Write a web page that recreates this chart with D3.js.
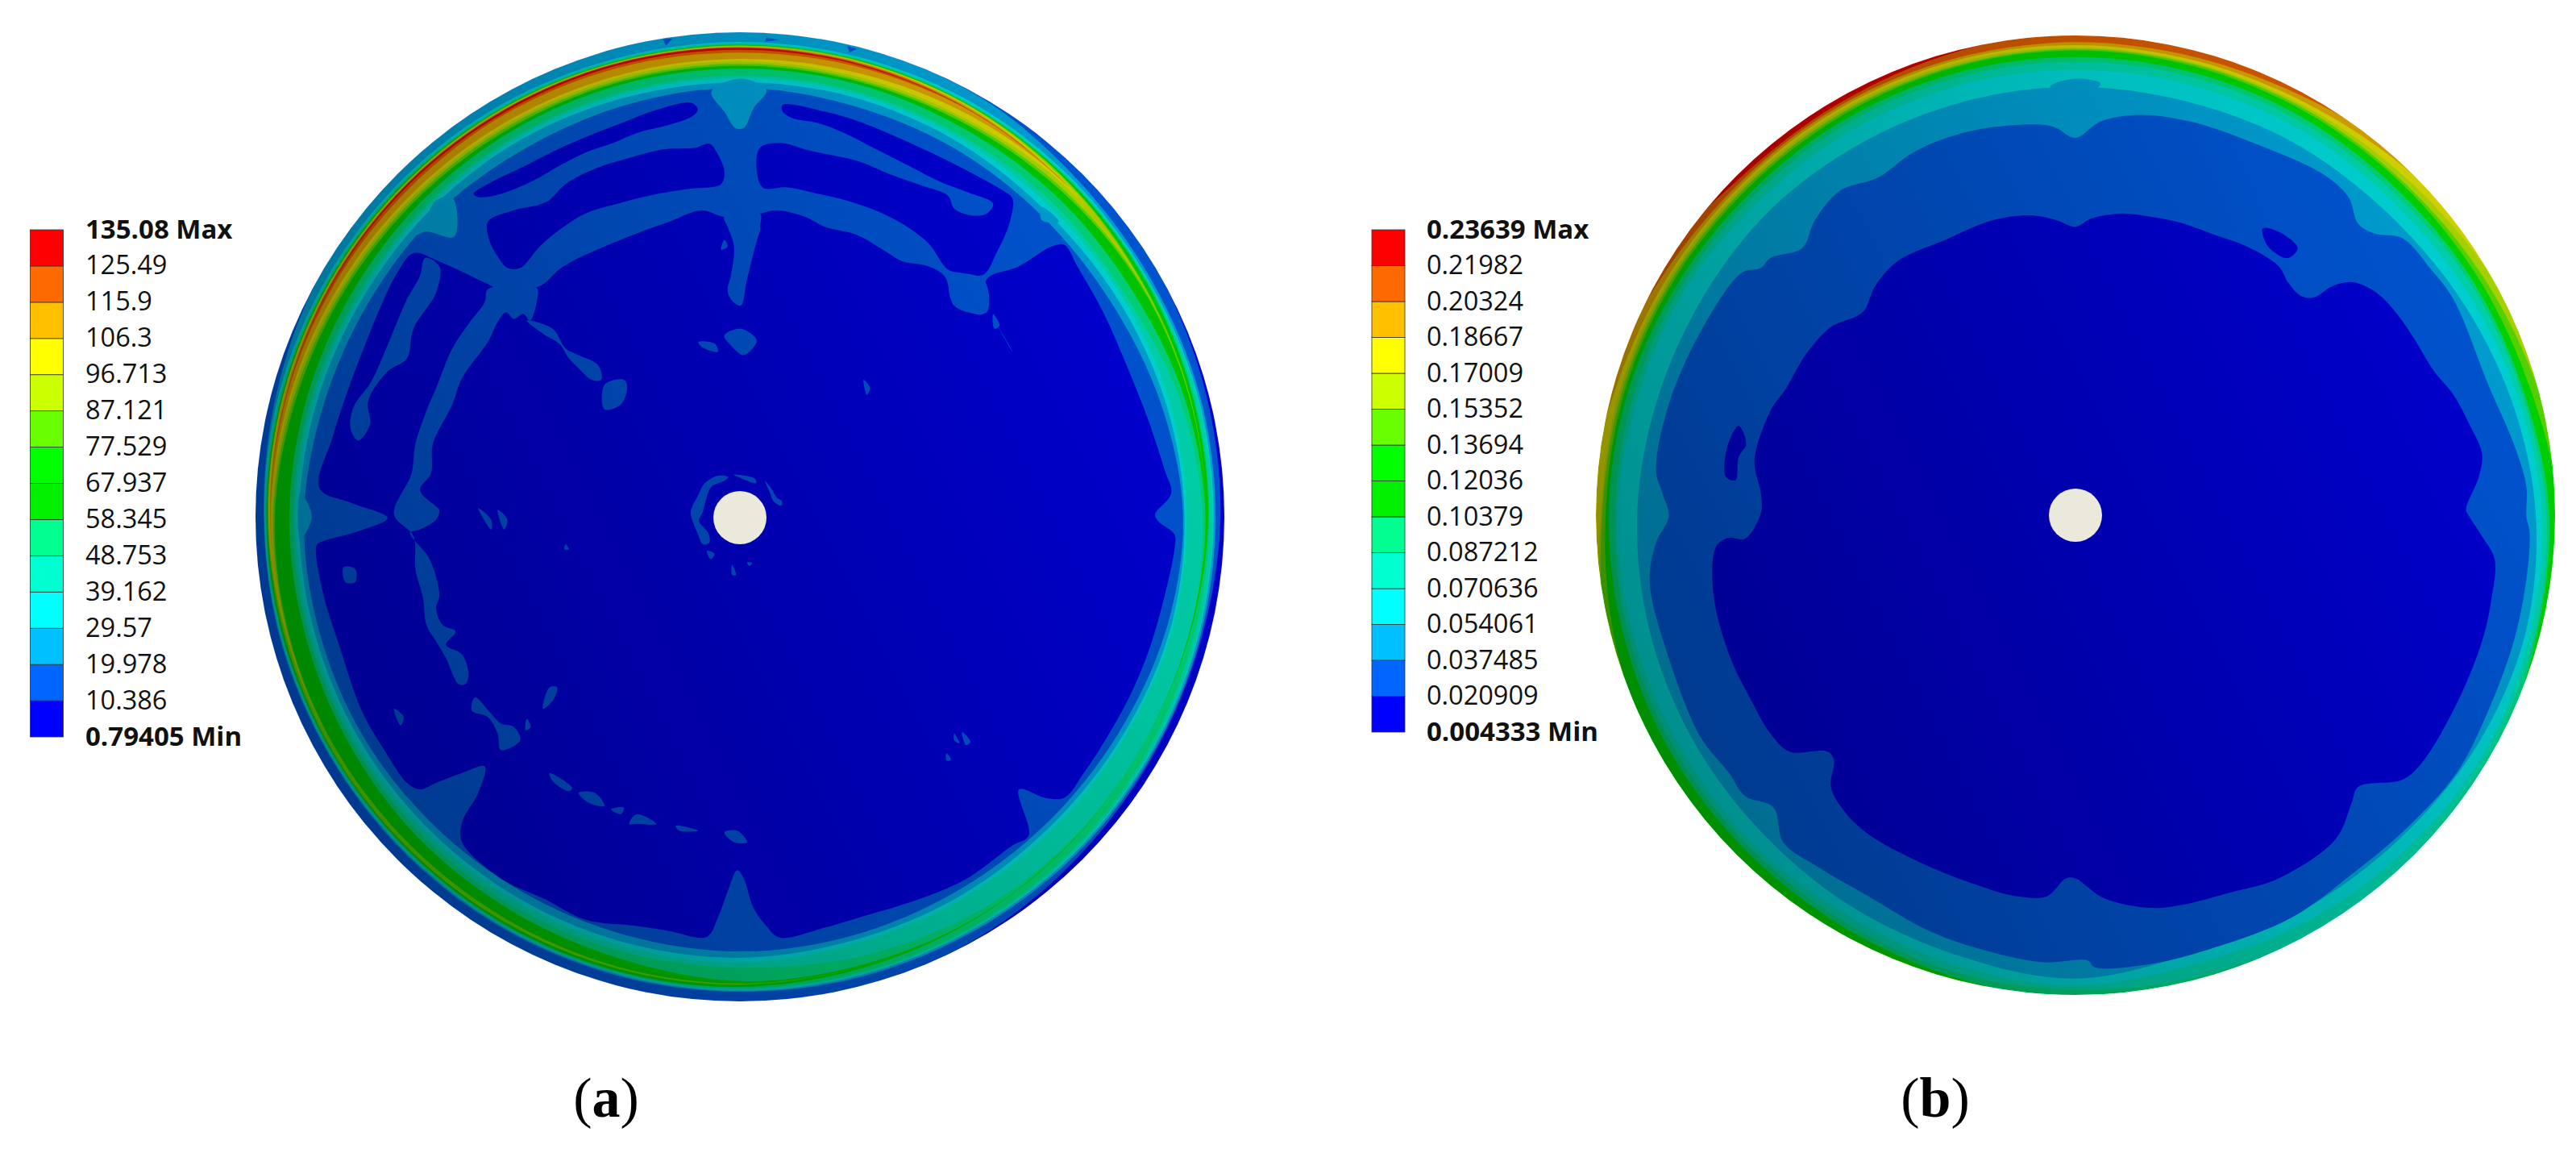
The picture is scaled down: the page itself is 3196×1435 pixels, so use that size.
<!DOCTYPE html>
<html>
<head>
<meta charset="utf-8">
<script src="https://cdn.jsdelivr.net/npm/d3@7"></script>
<style>
  html, body { margin: 0; background: #fff; }
  svg { display: block; }
  .legend-label { font-family: "Open Sans", sans-serif; font-size: 32.5px; fill: #111; dominant-baseline: central; }
  .legend-label.end { font-weight: 700; font-size: 33px; }
  .caption { font-family: "Liberation Serif", serif; font-size: 70px; fill: #000; text-anchor: middle; }
</style>
</head>
<body>
<script>
const w = 3196;
const h = 1435;

// legend, bottom band first
const levelColors = ["#0000ff", "#0066ff", "#00c0ff", "#00ffff", "#00ffd0", "#00ff90", "#00f000",
  "#00ff00", "#6aff00", "#ccff00", "#ffff00", "#ffc000", "#ff6a00", "#ff0000"];
const labelsA = ["0.79405 Min", "10.386", "19.978", "29.57", "39.162", "48.753", "58.345", "67.937",
  "77.529", "87.121", "96.713", "106.3", "115.9", "125.49", "135.08 Max"];
const labelsB = ["0.004333 Min", "0.020909", "0.037485", "0.054061", "0.070636", "0.087212", "0.10379",
  "0.12036", "0.13694", "0.15352", "0.17009", "0.18667", "0.20324", "0.21982", "0.23639 Max"];

// rim profiles, one value per 15 degrees clockwise from the top, as fraction of the disc radius
const rimAngles = d3.range(0, 360, 15);

// plate (a): each level is a band between outer and inner
const ringLevelsA = [1, 2, 3, 4, 5, 6, 8, 9, 10, 11, 12, 13];
const ringOuterA = [
  [1, 1, 1, 1, 1, .995, .992, .985, .985, .99, .998, 1, 1, 1, 1, 1, 1, 1, 1, 1, 1, 1, 1, 1],
  [1, 1, .998, .985, .98, .982, .982, .982, .982, .983, .982, .982, .98, .98, .98, .98, .98, .982, .983, .99, 1, 1, 1, 1],
  [.98, .98, .98, .978, .975, .978, .978, .978, .978, .979, .978, .978, .978, .977, .977, .977, .978, .98, .982, .985, .985, .985, .983, .98],
  [.978, .978, .977, .975, .973, .976, .976, .976, .976, .976, .976, .976, .975, .975, .975, .975, .976, .978, .98, .982, .982, .982, .98, .978],
  [.976, .976, .975, .973, .971, .97, .969, .969, .97, .972, .973, .973, .973, .973, .973, .973, .974, .976, .978, .98, .98, .98, .978, .976],
  [.974, .974, .973, .971, .969, .967, .967, .96, .956, .959, .962, .965, .97, .971, .971, .971, .972, .975, .977, .978, .978, .978, .976, .974],
  [.973, .973, .972, .968, .962, .962, .961, .958, .956, .959, .961, .961, .965, .966, .967, .968, .97, .972, .975, .976, .976, .976, .975, .973],
  [.972, .972, .971, .966, .96, .961, .961, .958, .956, .959, .961, .961, .964, .964, .964, .964, .965, .968, .974, .975, .975, .975, .974, .972],
  [.971, .971, .97, .963, .96, .961, .961, .958, .956, .959, .961, .961, .964, .964, .964, .964, .965, .966, .973, .974, .974, .974, .973, .971],
  [.97, .97, .968, .961, .96, .961, .961, .958, .956, .959, .961, .961, .964, .964, .964, .964, .965, .966, .97, .973, .973, .973, .972, .97],
  [.969, .968, .965, .961, .96, .961, .961, .958, .956, .959, .961, .961, .964, .964, .964, .964, .965, .966, .969, .97, .972, .972, .971, .97],
  [.968, .966, .964, .961, .96, .961, .961, .958, .956, .959, .961, .961, .964, .964, .964, .964, .965, .966, .969, .969, .97, .971, .97, .969]
];
const ringInnerA = [
  [0, 0, 0, 0, 0, 0, 0, 0, 0, 0, 0, 0, 0, 0, 0, 0, 0, 0, 0, 0, 0, 0, 0, 0],
  [.885, .88, .88, .88, .885, .9, .915, .91, .9, .895, .893, .895, .897, .895, .895, .897, .9, .9, .9, .89, .885, .885, .88, .882],
  [.897, .897, .895, .893, .9, .91, .918, .918, .91, .905, .905, .905, .91, .91, .91, .91, .91, .91, .91, .905, .9, .9, .9, .897],
  [.905, .905, .903, .905, .91, .918, .922, .922, .915, .912, .912, .912, .92, .918, .918, .918, .918, .917, .917, .912, .907, .907, .907, .905],
  [.91, .91, .91, .915, .918, .94, .955, .958, .955, .955, .95, .94, .93, .93, .93, .928, .925, .923, .922, .918, .913, .913, .912, .91],
  [.925, .925, .925, .93, .935, .95, .961, .958, .956, .958, .96, .958, .958, .945, .94, .938, .933, .93, .93, .927, .925, .925, .925, .925],
  [.931, .931, .935, .945, .955, .96, .961, .958, .956, .959, .961, .961, .963, .962, .96, .96, .962, .962, .96, .948, .94, .935, .932, .931],
  [.935, .935, .94, .95, .958, .961, .961, .958, .956, .959, .961, .961, .964, .964, .964, .964, .965, .964, .963, .953, .945, .94, .937, .935],
  [.94, .94, .945, .958, .96, .961, .961, .958, .956, .959, .961, .961, .964, .964, .964, .964, .965, .966, .966, .958, .95, .945, .942, .94],
  [.945, .948, .955, .961, .96, .961, .961, .958, .956, .959, .961, .961, .964, .964, .964, .964, .965, .966, .968, .962, .955, .95, .947, .945],
  [.958, .96, .963, .961, .96, .961, .961, .958, .956, .959, .961, .961, .964, .964, .964, .964, .965, .966, .969, .968, .965, .962, .962, .96],
  [.964, .964, .964, .961, .96, .961, .961, .958, .956, .959, .961, .961, .964, .964, .964, .964, .965, .966, .969, .969, .969, .968, .966, .965]
];

// contour outlines of plate (a) in traced grid units
const darkZonesA = [
  [[700, 270], [690, 262], [640, 285], [590, 322], [530, 368], [480, 412], [430, 462], [385, 505], [358, 540], [365, 550], [400, 540], [450, 500], [490, 455], [530, 415], [570, 388], [610, 355], [660, 330], [695, 305], [704, 285]],
  [[835, 270], [900, 290], [960, 325], [1020, 375], [1080, 430], [1130, 480], [1175, 530], [1190, 555], [1185, 630], [1165, 720], [1145, 785], [1110, 780], [1090, 770], [1060, 690], [1010, 620], [950, 570], [890, 540], [840, 520], [805, 522], [795, 470], [800, 400], [830, 385], [880, 410], [950, 440], [1000, 480], [1050, 515], [1090, 545], [1100, 585], [1125, 605], [1150, 600], [1160, 570], [1120, 535], [1080, 505], [1030, 455], [980, 405], [930, 355], [890, 325], [850, 310], [835, 290]],
  [[722, 388], [735, 420], [745, 470], [740, 510], [690, 525], [630, 545], [580, 570], [530, 600], [490, 650], [460, 700], [430, 765], [410, 765], [395, 730], [382, 680], [380, 625], [420, 590], [470, 565], [500, 510], [550, 460], [600, 430], [650, 405], [700, 400]],
  [[460, 820], [490, 770], [515, 740], [560, 700], [610, 660], [660, 625], [710, 590], [745, 610], [800, 600], [825, 590], [870, 610], [900, 640], [950, 665], [990, 710], [1020, 745], [1060, 760], [1085, 790], [1100, 870], [1145, 905], [1150, 800], [1200, 760], [1250, 700], [1270, 695], [1290, 760], [1330, 900], [1370, 1080], [1400, 1230], [1425, 1380], [1435, 1450], [1410, 1515],
   [1415, 1535], [1440, 1575], [1440, 1620], [1425, 1760], [1400, 1930], [1370, 2070], [1330, 2210], [1300, 2300], [1270, 2375], [1240, 2375], [1200, 2350], [1215, 2490], [1190, 2520], [1120, 2620], [1050, 2680], [960, 2735], [900, 2770], [830, 2800], [810, 2765], [790, 2710], [775, 2620], [765, 2595], [750, 2660], [735, 2740], [718, 2798], [660, 2780], [610, 2765], [530, 2745], [470, 2685], [400, 2620], [340, 2510], [340, 2450], [365, 2360], [375, 2280], [340, 2300], [300, 2330], [275, 2350], [255, 2330], [220, 2230], [185, 2110], [150, 1910], [125, 1750], [115, 1610], [120, 1600], [180, 1565], [225, 1525], [170, 1480], [120, 1435], [140, 1280], [165, 1130], [190, 1000], [215, 880], [240, 780], [265, 720], [310, 750], [375, 810], [400, 830]]
];
const ribsA = [
  [[380, 830], [455, 825], [455, 870], [445, 925], [435, 905], [420, 920], [408, 900], [395, 930], [380, 990], [340, 1100], [325, 1180], [295, 1300], [292, 1390], [275, 1440], [300, 1490], [305, 1500], [300, 1530], [275, 1560], [260, 1570], [290, 1650], [305, 1760], [300, 1800], [310, 1850], [330, 1870], [315, 1910], [340, 1940], [350, 2000], [345, 2030], [335, 2030], [315, 1950], [300, 1900], [285, 1850], [280, 1770], [268, 1680], [265, 1580], [235, 1515], [262, 1390], [268, 1300], [285, 1200], [300, 1130], [325, 1010], [350, 935], [375, 870]],
  [[283, 735], [305, 760], [300, 840], [265, 950], [255, 1040], [225, 1080], [195, 1170], [198, 1240], [180, 1290], [168, 1255], [172, 1190], [200, 1110], [225, 1000], [255, 860], [275, 790]],
  [[440, 925], [480, 950], [500, 1010], [520, 1030], [550, 1060], [555, 1105], [540, 1105], [520, 1070], [505, 1040], [490, 995], [465, 965]],
  [[560, 1120], [590, 1105], [595, 1130], [585, 1180], [560, 1195]],
  [[745, 610], [800, 600], [800, 640], [790, 720], [780, 800], [770, 880], [755, 860], [750, 830], [755, 790], [760, 700], [750, 640]],
  [[745, 970], [770, 950], [795, 985], [775, 1030], [755, 1000]],
  [[1095, 790], [1145, 800], [1150, 900], [1100, 880]],
  [[360, 2070], [385, 2120], [400, 2150], [420, 2160], [430, 2200], [400, 2230], [395, 2180], [380, 2130], [355, 2110]],
  [[751, 1401], [734, 1397], [714, 1421], [705, 1454], [693, 1507], [697, 1540], [703, 1568], [712, 1605], [722, 1600], [720, 1570], [706, 1535], [712, 1505], [718, 1460], [725, 1430], [745, 1412]],
  [[808, 1413], [817, 1434], [826, 1463], [834, 1474], [833, 1487], [821, 1474], [815, 1446]],
  [[759, 1393], [792, 1405], [794, 1419], [767, 1401]]
];
const spotsA = [
  [[157, 1675], [175, 1680], [175, 1720], [160, 1720]],
  [[235, 2105], [250, 2130], [245, 2155]],
  [[475, 2040], [487, 2040], [480, 2080], [465, 2105]],
  [[440, 2135], [446, 2160], [438, 2170]],
  [[475, 2300], [510, 2345], [505, 2355], [480, 2325]],
  [[520, 2360], [545, 2360], [560, 2400], [535, 2390]],
  [[570, 2410], [590, 2405], [585, 2425]],
  [[610, 2425], [640, 2455], [610, 2455], [598, 2455]],
  [[670, 2460], [705, 2475], [675, 2475]],
  [[745, 2480], [765, 2475], [780, 2510], [760, 2510]],
  [[1100, 2180], [1108, 2210], [1100, 2200]],
  [[1112, 2175], [1125, 2205], [1118, 2215]],
  [[1088, 2240], [1095, 2260], [1088, 2262]],
  [[365, 1495], [385, 1530], [385, 1560]],
  [[395, 1500], [410, 1530], [405, 1560]],
  [[500, 1605], [505, 1620], [498, 1620]],
  [[960, 1105], [970, 1130], [965, 1150]],
  [[1160, 905], [1170, 940], [1162, 950]],
  [[1165, 935], [1185, 1000], [1190, 1020]],
  [[745, 680], [750, 700], [740, 710]],
  [[780, 640], [800, 640], [790, 690], [775, 690]],
  [[705, 990], [730, 995], [735, 1020], [710, 1005]],
  [[718, 1625], [730, 1634], [724, 1650]],
  [[757, 1667], [763, 1698], [757, 1698]],
  [[780, 1660], [788, 1662], [784, 1671]]
];
const rimPatchesA = [
  [[650, 70], [665, 68], [655, 90]],
  [[810, 65], [830, 72], [808, 78]],
  [[935, 90], [950, 100], [938, 110]]
];
const spikesA = [
  [[725, 230], [745, 290], [762, 340], [775, 340], [790, 280], [810, 225], [770, 190]],
  [[108, 1520], [90, 1450], [90, 1590]],
  [[300, 560], [325, 550], [328, 670], [285, 655], [265, 668], [285, 610]],
  [[1235, 580], [1262, 625], [1235, 620]]
];

// plate (b): level boundaries, level k below the line and k+1 above it
const boundaryLevelsB = [12, 11, 10, 9, 8, 7, 5, 4, 3, 2];
const boundariesB = [
  [1.01, 1.01, 1.02, 1.03, 1.04, 1.05, 1.05, 1.05, 1.05, 1.05, 1.05, 1.05, 1.05, 1.05, 1.05, 1.05, 1.05, 1.05, 1.05, 1.03, 1.02, .992, .99, .997],
  [.986, .987, .995, 1.02, 1.03, 1.04, 1.04, 1.04, 1.04, 1.04, 1.04, 1.04, 1.04, 1.04, 1.04, 1.04, 1.04, 1.04, 1.04, 1.02, .995, .985, .985, .985],
  [.98, .98, .985, 1.0, 1.02, 1.03, 1.03, 1.03, 1.03, 1.03, 1.03, 1.03, 1.03, 1.03, 1.03, 1.03, 1.03, 1.03, 1.02, .995, .985, .98, .98, .98],
  [.975, .975, .978, .985, 1.0, 1.02, 1.02, 1.02, 1.02, 1.02, 1.02, 1.02, 1.02, 1.02, 1.02, 1.02, 1.02, 1.02, .99, .985, .98, .975, .975, .975],
  [.972, .972, .973, .975, .985, 1.0, 1.02, 1.02, 1.02, 1.02, 1.02, 1.02, 1.02, 1.02, 1.02, 1.02, 1.02, 1.01, .987, .98, .975, .97, .97, .97],
  [.969, .968, .968, .97, .975, .985, 1.01, 1.02, 1.02, 1.02, 1.02, 1.02, 1.02, 1.02, 1.02, 1.02, 1.01, .995, .98, .975, .97, .965, .965, .967],
  [.955, .955, .955, .955, .962, .97, .988, .994, 1.01, 1.01, 1.02, 1.01, 1.01, .995, .985, .98, .978, .975, .973, .968, .96, .955, .955, .955],
  [.945, .945, .945, .945, .955, .965, .982, .99, .995, .998, 1.0, .995, .99, .985, .975, .97, .968, .965, .96, .955, .95, .945, .945, .945],
  [.928, .928, .93, .93, .94, .955, .973, .98, .985, .98, .975, .968, .98, .97, .96, .96, .955, .955, .955, .945, .94, .93, .928, .928],
  [.893, .893, .9, .905, .92, .94, .96, .97, .965, .955, .95, .945, .966, .95, .94, .93, .925, .92, .914, .905, .9, .9, .895, .893]
];
const zoneL1B = [[780, 370], [820, 320], [880, 300], [960, 320], [1060, 385], [1170, 480], [1210, 550], [1225, 630], [1250, 660], [1295, 675], [1340, 770], [1375, 860], [1430, 1120], [1470, 1300], [1490, 1430], [1490, 1520],
  [1495, 1570], [1490, 1710], [1470, 1900], [1430, 2110], [1380, 2300], [1300, 2470], [1220, 2600], [1120, 2740], [1000, 2830], [900, 2880], [810, 2890], [800, 2870], [730, 2875], [640, 2840], [550, 2780], [450, 2670], [370, 2580], [320, 2510], [305, 2405], [260, 2370], [235, 2300], [190, 2190], [140, 1950], [110, 1720], [120, 1600], [140, 1520],
  [130, 1450], [120, 1380], [140, 1180], [190, 960], [255, 780], [285, 765], [300, 735], [350, 705], [370, 620], [410, 530], [470, 490], [520, 420], [570, 375], [640, 340], [730, 330], [750, 340]];
const zoneL0B = [[780, 640], [805, 615], [850, 600], [900, 610], [950, 630], [1000, 665], [1050, 700], [1100, 760], [1115, 810], [1135, 850], [1155, 855], [1185, 820], [1215, 808], [1250, 835], [1280, 890], [1310, 970], [1345, 1080], [1375, 1150], [1400, 1240], [1420, 1330], [1415, 1400], [1395, 1500],
  [1400, 1520], [1420, 1580], [1440, 1650], [1435, 1770], [1420, 1900], [1380, 2090], [1325, 2270], [1295, 2320], [1225, 2342], [1215, 2390], [1190, 2500], [1100, 2620], [1020, 2665], [950, 2700], [900, 2710], [825, 2680], [780, 2620], [765, 2620], [735, 2675], [690, 2675], [640, 2650], [545, 2580], [450, 2480], [410, 2400], [395, 2340], [400, 2260], [390, 2235], [330, 2235], [300, 2180], [270, 2080], [235, 1940], [210, 1750], [215, 1610], [235, 1585], [260, 1588], [285, 1510],
  [285, 1450], [275, 1350], [300, 1200], [325, 1130], [355, 1030], [395, 945], [445, 900], [465, 820], [500, 745], [575, 680], [650, 620], [710, 605], [750, 620]];
const spotsB = [
  [[1075, 645], [1105, 660], [1130, 705], [1115, 735], [1095, 720], [1080, 690]],
  [[250, 1245], [262, 1300], [250, 1340], [245, 1410], [230, 1400], [232, 1310]]
];
const notchB = [[740, 215], [780, 250], [820, 205], [780, 190]];

const svg = d3.select("body").append("svg").attr("width", w).attr("height", h);
const defs = svg.append("defs");

// light falls from the upper right
const light = defs.append("linearGradient").attr("id", "light")
  .attr("x1", 0).attr("y1", 0.75).attr("x2", 1).attr("y2", 0.25);
light.append("stop").attr("offset", 0).attr("stop-color", "#8a8a8a");
light.append("stop").attr("offset", 1).attr("stop-color", "#d4d4d4");

function drawDisc(id, cx, cy, r, xRange, paint) {
  const x = d3.scaleLinear().domain([0, 1568]).range(xRange);
  const y = d3.scaleLinear().domain([0, 3038]).range([20, 1260]);
  const rad = d3.scaleLinear().domain([0, 1]).range([0, r]);
  const outline = d3.line().x((d) => x(d[0])).y((d) => y(d[1]));
  const smooth = d3.line().x((d) => x(d[0])).y((d) => y(d[1])).curve(d3.curveCatmullRomClosed.alpha(0.5));
  const radial = d3.lineRadial()
    .angle((d, i) => (rimAngles[i] * Math.PI) / 180)
    .radius((d) => rad(d))
    .curve(d3.curveCatmullRomClosed.alpha(0.5));

  defs.append("clipPath").attr("id", "clip-" + id)
    .append("circle").attr("cx", cx).attr("cy", cy).attr("r", r);

  const g = svg.append("g").attr("clip-path", `url(#clip-${id})`);
  const polar = g.append("g").attr("transform", `translate(${cx},${cy})`);
  paint({ g, polar, outline, smooth, radial });

  g.append("circle").attr("cx", cx).attr("cy", cy).attr("r", r)
    .attr("fill", "url(#light)")
    .style("mix-blend-mode", "multiply");
}

function addPolys(sel, data, line, level) {
  sel.append("g").selectAll("path").data(data).join("path")
    .attr("d", line).attr("fill", levelColors[level]);
}

drawDisc("a", 918, 641, 601, [300, 1560], ({ g, polar, outline, smooth, radial }) => {
  polar.append("path").attr("d", radial(rimAngles.map(() => 1.02))).attr("fill", levelColors[0]);
  polar.selectAll("path.ring").data(ringLevelsA).join("path")
    .attr("class", "ring")
    .attr("fill-rule", "evenodd")
    .attr("fill", (d) => levelColors[d])
    .attr("d", (d, i) => radial(ringOuterA[i]) + radial(ringInnerA[i]));
  addPolys(g, darkZonesA, smooth, 0);
  addPolys(g, ribsA, smooth, 1);
  addPolys(g, spotsA, smooth, 1);
  addPolys(g, spikesA, smooth, 2);
  addPolys(g, rimPatchesA, outline, 1);
});

drawDisc("b", 2575, 639, 595, [1960, 3196], ({ g, polar, smooth, radial }) => {
  polar.append("path").attr("d", radial(rimAngles.map(() => 1.06))).attr("fill", levelColors[13]);
  polar.selectAll("path.bound").data(boundaryLevelsB).join("path")
    .attr("class", "bound")
    .attr("fill", (d) => levelColors[d])
    .attr("d", (d, i) => radial(boundariesB[i]));
  addPolys(g, [notchB], smooth, 2);
  addPolys(g, [zoneL1B], smooth, 1);
  addPolys(g, [zoneL0B], smooth, 0);
  addPolys(g, spotsB, smooth, 0);
});

// centre holes
svg.selectAll("circle.hole")
  .data([[918, 642], [2575, 639]])
  .join("circle")
  .attr("class", "hole")
  .attr("cx", (d) => d[0]).attr("cy", (d) => d[1]).attr("r", 33)
  .attr("fill", "#ebe9dc");

function drawLegend(labels, barX, textX, top, bottom) {
  const y = d3.scaleLinear().domain([0, 14]).range([bottom, top]);
  const g = svg.append("g");
  g.selectAll("rect").data(levelColors).join("rect")
    .attr("x", barX)
    .attr("width", 41)
    .attr("y", (d, i) => y(i + 1))
    .attr("height", (d, i) => y(i) - y(i + 1))
    .attr("fill", (d) => d)
    .attr("stroke", "#333")
    .attr("stroke-width", 0.8);
  g.selectAll("text").data(labels).join("text")
    .attr("class", (d, i) => (i === 0 || i === 14 ? "legend-label end" : "legend-label"))
    .attr("x", textX)
    .attr("y", (d, i) => y(i) - 2)
    .text((d) => d);
}
drawLegend(labelsA, 37.5, 106, 285, 914);
drawLegend(labelsB, 1702, 1770, 285, 908);

// captions
[["a", 752], ["b", 2401]].forEach(([letter, x]) => {
  const t = svg.append("text").attr("class", "caption").attr("x", x).attr("y", 1385);
  t.append("tspan").text("(");
  t.append("tspan").attr("font-weight", 700).text(letter);
  t.append("tspan").text(")");
});
</script>
</body>
</html>
